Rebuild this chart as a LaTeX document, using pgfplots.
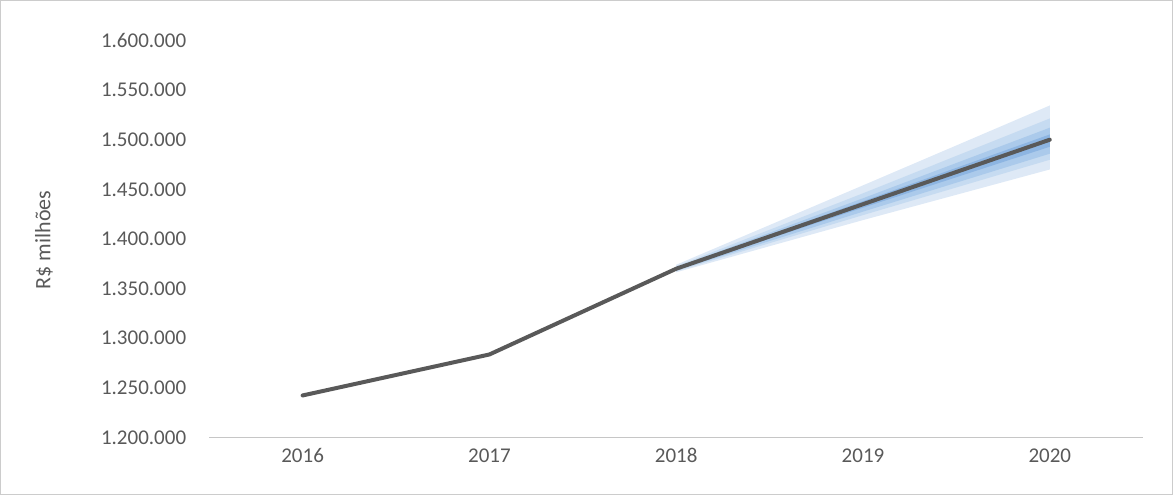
\documentclass[border=0pt]{standalone}
\usepackage{pgfplots}
\pgfplotsset{compat=1.18}
\usepackage{fontspec}
\setmainfont{Carlito}
\definecolor{b1}{HTML}{DEE9F6}
\definecolor{b2}{HTML}{C6DBF1}
\definecolor{b3}{HTML}{ABCAEB}
\definecolor{b4}{HTML}{8DB5E2}
\definecolor{tk}{HTML}{595959}
\begin{document}
\begin{tikzpicture}[x=1pt,y=1pt]
\useasboundingbox (0,0) rectangle (586.5,247.5);
\draw[draw=gray!40,line width=0.5pt] (0.25,0.25) rectangle (586.25,247.25);
\node[rotate=90,font=\fontsize{11}{13}\selectfont,text=tk] at (22,127.5) {R\$ milhões};
\begin{axis}[at={(112,58)},anchor=south west,scale only axis,width=467pt,height=198.5pt,
 xmin=-0.5,xmax=4.5,ymin=1200,ymax=1600,
 axis y line=none,axis x line*=bottom,
 axis line style={draw=gray!45},
 xtick={0,1,2,3,4},xticklabels={2016,2017,2018,2019,2020},
 major x tick style={draw=none},
 extra x ticks={-0.5,0.5,1.5,2.5,3.5,4.5},extra x tick labels={},
 extra x tick style={tick style={draw=gray!45},major tick length=5pt,tick align=outside},
 ticklabel style={font=\fontsize{10.5}{12}\selectfont,text=tk},
 xticklabel style={yshift=-2pt},
 clip=false]
\addplot[fill=b1,draw=none] coordinates {(2,1374) (3,1454) (4,1534.5) (4,1470) (3,1419) (2,1366.4)} --cycle;
\addplot[fill=b2,draw=none] coordinates {(2,1372.5) (3,1446) (4,1521.4) (4,1479.8) (3,1424) (2,1367.5)} --cycle;
\addplot[fill=b3,draw=none] coordinates {(2,1371.5) (3,1441) (4,1512.1) (4,1485.9) (3,1427.5) (2,1368.3)} --cycle;
\addplot[fill=b4,draw=none] coordinates {(2,1370.6) (3,1438) (4,1505.3) (4,1492.9) (3,1431.5) (2,1369.2)} --cycle;
\addplot[color=blue!60!black,dashed,line width=0.6pt] coordinates {(2,1370) (3,1435.5) (4,1500.5)};
\addplot[color=tk,line width=2pt,line cap=round,line join=round] coordinates {(0,1242.3) (1,1283.6) (2,1370) (3,1435) (4,1500)};
\foreach \v/\l in {1200/1.200.000,1250/1.250.000,1300/1.300.000,1350/1.350.000,1400/1.400.000,1450/1.450.000,1500/1.500.000,1550/1.550.000,1600/1.600.000}
 {\edef\tmp{\noexpand\node[anchor=east,font=\noexpand\fontsize{10.5}{12}\noexpand\selectfont,text=tk] at (axis cs:-0.5,\v) [xshift=-8pt] {\l};}\tmp}
\end{axis}
\end{tikzpicture}
\end{document}
